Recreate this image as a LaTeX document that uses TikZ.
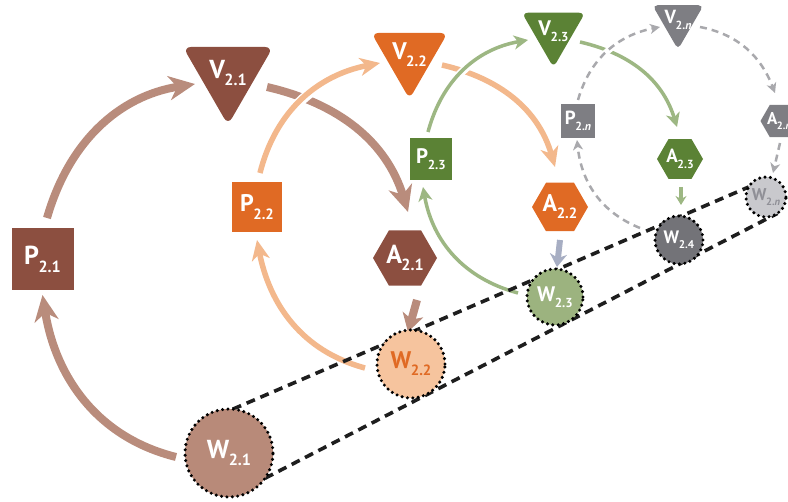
\documentclass[tikz,border=0pt]{standalone}
\usepackage{fontspec}
\setmainfont{PT Sans}
\usetikzlibrary{shapes.geometric,arrows.meta,calc}

\pgfdeclarelayer{arrowlayer}
\pgfdeclarelayer{tubelayer}
\pgfsetlayers{arrowlayer,tubelayer,main}

% cycle palettes: dark node fill, light arrow, well fill
\definecolor{brD}{HTML}{8C4F40}
\definecolor{brL}{HTML}{B98C7C}
\definecolor{brW}{HTML}{B88A79}
\definecolor{orD}{HTML}{E06A24}
\definecolor{orL}{HTML}{F3B88C}
\definecolor{orW}{HTML}{F6C49E}
\definecolor{grD}{HTML}{5B8235}
\definecolor{grL}{HTML}{9DB783}
\definecolor{grW}{HTML}{9CB37F}
\definecolor{gyD}{HTML}{7E7E83}
\definecolor{gyL}{HTML}{A9A9AD}
\definecolor{gyW}{HTML}{737378}
\definecolor{gyN}{HTML}{C9C9CD}
\definecolor{gyT}{HTML}{8F8F96}
\definecolor{blL}{HTML}{A7AEC3}
\definecolor{tubeC}{HTML}{1E1E1E}

% label with lowered subscript, zero width so it never resizes its shape
\newcommand\nm[2]{\makebox[0pt]{#1\kern-0.02em\raisebox{-0.3em}{\scalebox{0.62}{#2}}}}

\tikzset{
  fs/.style={font=\bfseries\fontsize{#1}{#1}\selectfont},
  base/.style={inner sep=0pt, outer sep=0pt, text=white},
  sq/.style={base, rectangle, minimum size=#1},
  tri/.style={base, regular polygon, regular polygon sides=3,
              shape border rotate=180, minimum size=#1},
  hex/.style={base, regular polygon, regular polygon sides=6, minimum size=#1},
  well/.style={base, circle, minimum size=#1, draw=black, line width=3.4pt,
               dash pattern=on 0pt off 5.4pt, line cap=round},
  halo/.style={preaction={draw=white, solid, line width=#1, -}},
  arB/.style={draw=brL, line width=8pt, -{Stealth[length=26pt,width=24pt,inset=8pt]}},
  arBs/.style={draw=brL, line width=8pt, -{Stealth[length=18pt,width=21pt,inset=5pt]}},
  arO/.style={draw=orL, line width=5.5pt, halo=10pt, -{Stealth[length=20pt,width=18pt,inset=6pt]}},
  arBl/.style={draw=blL, line width=6pt, -{Stealth[length=13pt,width=17pt,inset=4pt]}},
  arG/.style={draw=grL, line width=3.5pt, halo=8pt, -{Stealth[length=14pt,width=14pt,inset=4pt]}},
  arGs/.style={draw=grL, line width=4pt, -{Stealth[length=9pt,width=11pt,inset=3pt]}},
  arN/.style={draw=gyL, line width=2.5pt, dash pattern=on 7pt off 5pt, halo=6.5pt,
              -{Stealth[length=10pt,width=10pt,inset=3pt]}},
  tube/.style={draw=tubeC, line width=3.6pt, dash pattern=on 9pt off 6pt},
}

\begin{document}
\begin{tikzpicture}[x=1pt,y=1pt]
\useasboundingbox (0,0) rectangle (788,-502);

% ---- cycle 2.1
\node[sq=62, fill=brD, fs=26]  (P21) at (42.5,-259) {\nm{P}{2.1}};
\node[tri=104, fill=brD, rounded corners=8pt, fs=26] (V21) at (228,-73) {\nm{V}{2.1}};
\node[hex=64, fill=brD, fs=26] (A21) at (405,-258) {\nm{A}{2.1}};
\node[well=88, fill=brW, fs=26] (W21) at (229,-453) {\nm{W}{2.1}};

% ---- cycle 2.2
\node[sq=50, fill=orD, fs=24]  (P22) at (257,-207) {\nm{P}{2.2}};
\node[tri=88, fill=orD, rounded corners=7pt, fs=24] (V22) at (409.5,-55) {\nm{V}{2.2}};
\node[hex=56, fill=orD, fs=24] (A22) at (560,-207) {\nm{A}{2.2}};
\node[well=68, fill=orW, fs=24, text=orD] (W22) at (411,-364) {\nm{W}{2.2}};

% ---- cycle 2.3
\node[sq=42, fill=grD, fs=21]  (P23) at (431,-159) {\nm{P}{2.3}};
\node[tri=73, fill=grD, rounded corners=6pt, fs=21] (V23) at (553.5,-31) {\nm{V}{2.3}};
\node[hex=46, fill=grD, fs=19] (A23) at (680,-159) {\nm{A}{2.3}};
\node[well=56, fill=grW, fs=21] (W23) at (555,-297) {\nm{W}{2.3}};

% ---- cycle 2.n
\node[sq=34, fill=gyD, fs=19]  (P2n) at (578,-121) {\nm{P}{2.\textit{n}}};
\node[tri=59, fill=gyD, rounded corners=5pt, fs=19] (V2n) at (678,-20) {\nm{V}{2.\textit{n}}};
\node[hex=37, fill=gyD, fs=17] (A2n) at (779,-121) {\nm{A}{2.\textit{n}}};
\node[well=48, fill=gyW, fs=18] (W24) at (679,-240) {\nm{W}{2.4}};
\node[well=40, fill=gyN, fs=17, text=gyT] (W2n) at (766,-197) {\nm{W}{2.\textit{n}}};

\begin{pgfonlayer}{arrowlayer}
  % cycle 2.1
  \draw[arB] ($(W21)+(-53,-4)$) to[out=166,in=-81] ($(P21)+(0,-36)$);
  \draw[arB] ($(P21)+(4.5,41)$) to[out=74,in=189] ($(V21)+(-33,-11)$);
  \draw[arB] ($(V21)+(39,-14)$) to[out=-13,in=107] ($(A21)+(3,46)$);
  \draw[arBs] ($(A21)+(12,-42)$) -- ($(W22)+(-3,32)$);
  % cycle 2.2
  \draw[arO] ($(W22)+(-46,-4)$) to[out=165,in=-79] ($(P22)+(0,-33)$);
  \draw[arO] ($(P22)+(3,34)$) to[out=76,in=191] ($(V22)+(-29.5,-8)$);
  \draw[arO] ($(V22)+(32.5,-10)$) to[out=-13,in=106] ($(A22)+(-5,40)$);
  \draw[arBl] ($(A22)+(0,-33)$) -- ($(W23)+(2,30)$);
  % cycle 2.3
  \draw[arG] ($(W23)+(-37,4)$) to[out=165,in=-80] ($(P23)+(-8,-28)$);
  \draw[arG] ($(P23)+(-3,27)$) to[out=75,in=190] ($(V23)+(-25.5,-9)$);
  \draw[arG] ($(V23)+(26.5,-11)$) to[out=-13,in=107] ($(A23)+(-3,32)$);
  \draw[arGs] ($(A23)+(1,-28)$) -- ($(W24)+(2,35)$);
  % cycle 2.n
  \draw[arN] ($(W24)+(-39,12)$) to[out=158,in=-84] ($(P2n)+(-1,-19)$);
  \draw[arN] ($(P2n)+(0,21)$) to[out=74,in=191] ($(V2n)+(-18,-7)$);
  \draw[arN] ($(V2n)+(22,-7)$) to[out=-11,in=111] ($(A2n)+(-4,28)$);
  \draw[arN] ($(A2n)+(1,-22)$) -- ($(W2n)+(7,24)$);
\end{pgfonlayer}

\begin{pgfonlayer}{tubelayer}
  \draw[tube] (W21.85) -- (W2n.150);
  \draw[tube] (W21.-35) -- (W2n.-55);
\end{pgfonlayer}
\end{tikzpicture}
\end{document}
